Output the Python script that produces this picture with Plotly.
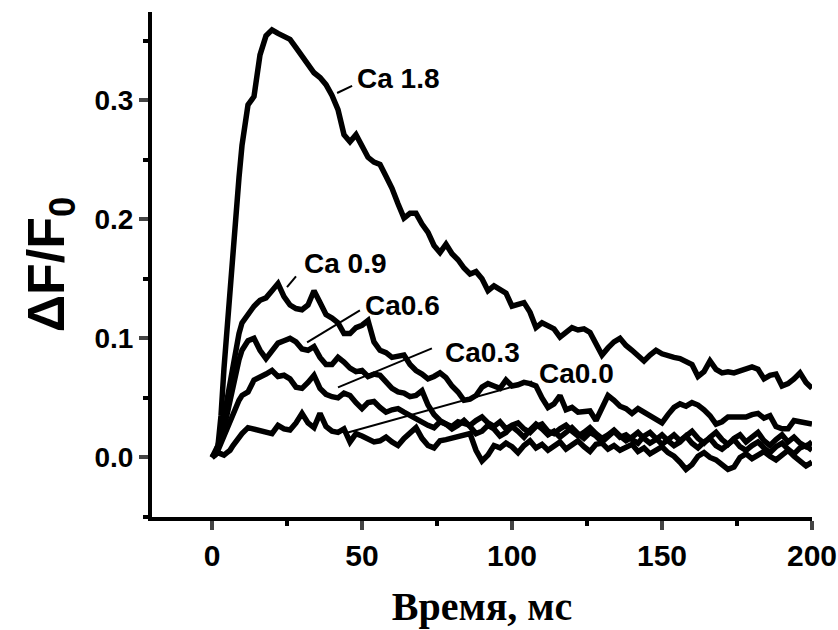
import plotly.graph_objects as go

# time axis (ms)
time_ms = list(range(0, 11)) + list(range(12, 201, 2))

ca_1_8 = [0.000, 0.003, 0.010, 0.035, 0.075, 0.110, 0.142, 0.174, 0.200, 0.235, 0.262,
          0.296, 0.303, 0.338, 0.354, 0.359, 0.356, 0.354, 0.351, 0.344, 0.337,
          0.331, 0.323, 0.319, 0.313, 0.304, 0.292, 0.271, 0.265, 0.271, 0.262,
          0.252, 0.248, 0.246, 0.236, 0.226, 0.213, 0.201, 0.205, 0.205, 0.196,
          0.189, 0.178, 0.172, 0.179, 0.171, 0.166, 0.159, 0.154, 0.156, 0.150,
          0.140, 0.144, 0.141, 0.138, 0.127, 0.129, 0.130, 0.122, 0.109, 0.113,
          0.111, 0.108, 0.101, 0.105, 0.109, 0.107, 0.108, 0.105, 0.096, 0.086,
          0.092, 0.097, 0.100, 0.094, 0.090, 0.086, 0.081, 0.086, 0.090, 0.087,
          0.085, 0.084, 0.083, 0.081, 0.078, 0.068, 0.072, 0.081, 0.074, 0.071,
          0.072, 0.071, 0.073, 0.075, 0.076, 0.074, 0.066, 0.069, 0.070, 0.060,
          0.062, 0.066, 0.071, 0.063, 0.058]

ca_0_9 = [0.000, 0.004, 0.010, 0.020, 0.032, 0.048, 0.062, 0.078, 0.092, 0.104, 0.113,
          0.121, 0.127, 0.132, 0.134, 0.140, 0.146, 0.135, 0.128, 0.125, 0.124,
          0.128, 0.140, 0.130, 0.120, 0.117, 0.113, 0.104, 0.104, 0.109, 0.111,
          0.115, 0.097, 0.090, 0.088, 0.084, 0.085, 0.086, 0.078, 0.073, 0.070,
          0.066, 0.068, 0.071, 0.067, 0.060, 0.055, 0.048, 0.049, 0.052, 0.059,
          0.062, 0.060, 0.058, 0.065, 0.060, 0.061, 0.063, 0.062, 0.060, 0.050,
          0.042, 0.045, 0.052, 0.040, 0.042, 0.038, 0.038, 0.039, 0.031, 0.042,
          0.052, 0.048, 0.043, 0.041, 0.037, 0.041, 0.038, 0.036, 0.033, 0.029,
          0.036, 0.042, 0.045, 0.043, 0.046, 0.044, 0.040, 0.035, 0.028, 0.030,
          0.034, 0.034, 0.035, 0.034, 0.036, 0.037, 0.033, 0.035, 0.026, 0.024,
          0.024, 0.031, 0.030, 0.029, 0.028]

ca_0_6 = [0.000, 0.003, 0.008, 0.015, 0.025, 0.036, 0.048, 0.060, 0.072, 0.082, 0.090,
          0.098, 0.100, 0.090, 0.083, 0.090, 0.096, 0.098, 0.100, 0.097, 0.091,
          0.090, 0.093, 0.084, 0.078, 0.078, 0.084, 0.080, 0.075, 0.072, 0.073,
          0.068, 0.070, 0.069, 0.063, 0.058, 0.055, 0.054, 0.051, 0.052, 0.056,
          0.044, 0.036, 0.031, 0.028, 0.024, 0.027, 0.031, 0.026, 0.020, 0.022,
          0.027, 0.024, 0.018, 0.021, 0.026, 0.022, 0.017, 0.023, 0.028, 0.024,
          0.019, 0.022, 0.017, 0.021, 0.025, 0.020, 0.016, 0.021, 0.018, 0.013,
          0.018, 0.022, 0.017, 0.019, 0.015, 0.012, 0.018, 0.021, 0.016, 0.011,
          0.015, 0.019, 0.014, 0.018, 0.022, 0.016, 0.012, 0.017, 0.021, 0.015,
          0.011, 0.016, 0.019, 0.013, 0.017, 0.021, 0.014, 0.010, 0.015, 0.019,
          0.013, 0.017, 0.012, 0.009, 0.013]

ca_0_3 = [0.000, 0.002, 0.006, 0.012, 0.018, 0.025, 0.032, 0.038, 0.043, 0.048, 0.052,
          0.055, 0.065, 0.067, 0.070, 0.073, 0.068, 0.069, 0.066, 0.059, 0.058,
          0.063, 0.069, 0.058, 0.053, 0.051, 0.050, 0.054, 0.052, 0.046, 0.041,
          0.046, 0.047, 0.042, 0.038, 0.040, 0.041, 0.038, 0.035, 0.033, 0.030,
          0.027, 0.025, 0.030, 0.028, 0.026, 0.030, 0.028, 0.027, 0.031, 0.034,
          0.029, 0.026, 0.030, 0.024, 0.027, 0.029, 0.024, 0.021, 0.026, 0.028,
          0.022, 0.020, 0.024, 0.027, 0.022, 0.018, 0.021, 0.025, 0.020, 0.016,
          0.019, 0.023, 0.018, 0.014, 0.017, 0.021, 0.016, 0.012, 0.015, 0.019,
          0.014, 0.010, 0.013, 0.018, 0.012, 0.008, 0.013, 0.016, 0.010, 0.007,
          0.011, 0.015, 0.009, 0.006, 0.010, 0.013, 0.008, 0.004, 0.009, 0.012,
          0.007, 0.003, 0.008, 0.010, 0.006]

ca_0_0 = [0.000, 0.002, 0.004, 0.003, 0.002, 0.004, 0.006, 0.010, 0.014, 0.017, 0.020,
          0.025, 0.024, 0.023, 0.021, 0.020, 0.027, 0.024, 0.023, 0.029, 0.037,
          0.029, 0.025, 0.037, 0.026, 0.022, 0.021, 0.024, 0.013, 0.020, 0.018,
          0.016, 0.013, 0.014, 0.017, 0.013, 0.010, 0.016, 0.020, 0.025, 0.016,
          0.010, 0.008, 0.014, 0.015, 0.016, 0.017, 0.019, 0.020, 0.006, -0.003,
          0.002, 0.010, 0.008, 0.012, 0.009, 0.004, 0.010, 0.014, 0.008, 0.011,
          0.006, 0.009, 0.013, 0.007, 0.010, 0.014, 0.009, 0.005, 0.011, 0.012,
          0.007, 0.010, 0.006, 0.009, 0.011, 0.005, 0.008, 0.003, 0.006, 0.009,
          0.004, 0.001, -0.004, -0.010, -0.006, 0.001, 0.004, 0.000, -0.002, -0.006,
          -0.010, -0.008, 0.000, 0.003, -0.001, 0.002, 0.005, 0.001, -0.002, 0.002,
          0.006, 0.001, -0.003, -0.007, -0.004]

series = [ca_1_8, ca_0_9, ca_0_6, ca_0_3, ca_0_0]
series_names = ["Ca 1.8", "Ca 0.9", "Ca0.6", "Ca0.3", "Ca0.0"]

# label positions (data units): text anchor and leader line (from curve -> text)
label_text_pos = [(47.7, 0.3185), (30.0, 0.163), (50.3, 0.1277), (77.0, 0.0882), (108.3, 0.0706)]
leader_lines = [((41.7, 0.306), (46.7, 0.312)),
                ((25.0, 0.143), (28.0, 0.152)),
                ((31.7, 0.0966), (49.3, 0.1235)),
                ((42.0, 0.0588), (73.3, 0.0916)),
                ((45.3, 0.021), (106.7, 0.0639))]

fig = go.Figure()
for name, ys in zip(series_names, series):
    fig.add_trace(go.Scatter(x=time_ms, y=ys, mode="lines", name=name,
                             line=dict(color="black", width=5.5), showlegend=False))

for name, (tx, ty), ((x0, y0), (x1, y1)) in zip(series_names, label_text_pos, leader_lines):
    fig.add_shape(type="line", x0=x0, y0=y0, x1=x1, y1=y1, xref="x", yref="y",
                  line=dict(color="black", width=2))
    fig.add_annotation(x=tx, y=ty, xref="x", yref="y", text=name, showarrow=False,
                       xanchor="left", yanchor="middle",
                       font=dict(family="Liberation Sans, Arial", size=28, color="black", weight="bold"))

fig.update_layout(
    width=838, height=630,
    margin=dict(l=152, r=26, t=12, b=113),
    plot_bgcolor="white", paper_bgcolor="white",
    font=dict(family="Liberation Sans, Arial", color="black"),
)

fig.update_xaxes(
    range=[-20, 200], tick0=0, dtick=50, ticks="outside", ticklen=9, tickwidth=3.5,
    showline=True, linewidth=4, linecolor="black", showgrid=False, zeroline=False,
    automargin=False,
    tickfont=dict(family="Liberation Sans, Arial", size=30, weight="bold", color="black"),
    minor=dict(ticks="outside", ticklen=5, tickwidth=3.5, dtick=25, tick0=0, tickcolor="black", showgrid=False),
    title=dict(text="<b>Время, мс</b>", standoff=22,
               font=dict(family="Liberation Serif, Times New Roman", size=40, color="black")),
)

fig.update_yaxes(
    range=[-0.05, 0.374], tick0=0, dtick=0.1, tickformat=".1f", ticks="outside", ticklen=9, tickwidth=3.5,
    showline=True, linewidth=4, linecolor="black", showgrid=False, zeroline=False,
    automargin=False,
    tickfont=dict(family="Liberation Sans, Arial", size=28, weight="bold", color="black"),
    minor=dict(ticks="outside", ticklen=5, tickwidth=3.5, dtick=0.05, tick0=0, tickcolor="black", showgrid=False),
    title=dict(text="<b>ΔF/F<sub>0</sub></b>", standoff=14,
               font=dict(family="Liberation Sans, Arial", size=52, color="black")),
)

fig.write_html("out.html")
